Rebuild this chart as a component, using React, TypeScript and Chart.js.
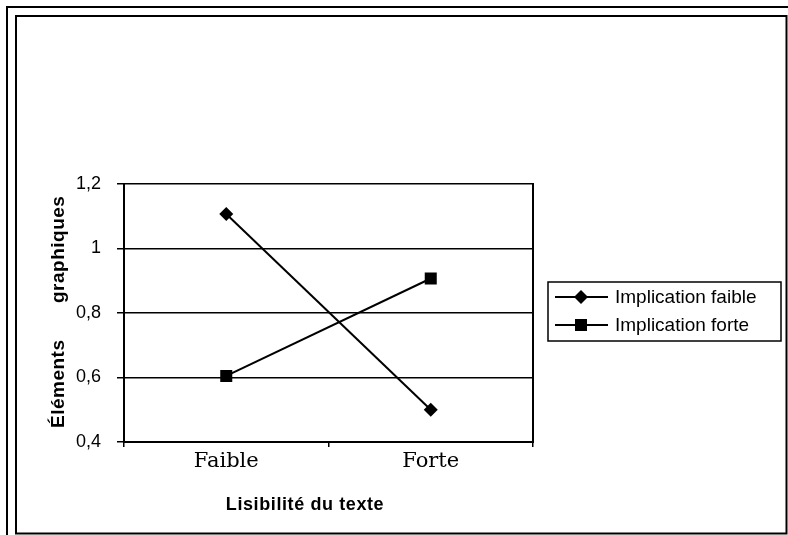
import React, { useEffect, useRef } from 'react';
import { Chart, registerables } from 'chart.js';

Chart.register(...registerables);

const categories = ['Faible', 'Forte'];
const seriesNames = ['Implication faible', 'Implication forte'];
const implicationFaible = [1.107, 0.5];
const implicationForte = [0.605, 0.907];
const yMin = 0.4;
const yMax = 1.2;
const yStep = 0.2;
const xTitle = 'Lisibilité du texte';
const yTitleWords = ['Éléments', 'graphiques'];

const W = 788;
const H = 535;

const framePlugin = {
  id: 'framePlugin',
  beforeDraw(chart: any) {
    const ctx = chart.ctx;
    ctx.save();
    ctx.fillStyle = '#fff';
    ctx.fillRect(0, 0, chart.width, chart.height);
    ctx.strokeStyle = '#000';
    ctx.lineWidth = 2;
    ctx.beginPath();
    ctx.moveTo(7, H);
    ctx.lineTo(7, 7);
    ctx.lineTo(W, 7);
    ctx.stroke();
    ctx.strokeRect(16, 16, 770.5, 517.5);
    ctx.restore();
  },
  afterDraw(chart: any) {
    const ctx = chart.ctx;
    ctx.save();
    ctx.fillStyle = '#000';
    ctx.strokeStyle = '#000';
    // x title
    ctx.font = 'bold 18px "Liberation Sans", Arial, sans-serif';
    (ctx as any).letterSpacing = '0.6px';
    ctx.textAlign = 'center';
    ctx.textBaseline = 'middle';
    ctx.fillText(xTitle, 305, 505);
    // y title (two words, wide gap)
    ctx.font = 'bold 19px "Liberation Sans", Arial, sans-serif';
    (ctx as any).letterSpacing = '0.5px';
    ctx.save();
    ctx.translate(64, 428);
    ctx.rotate(-Math.PI / 2);
    ctx.textAlign = 'left';
    ctx.textBaseline = 'alphabetic';
    ctx.fillText(yTitleWords[0], 0, 0);
    ctx.restore();
    ctx.save();
    ctx.translate(64, 303);
    ctx.rotate(-Math.PI / 2);
    ctx.textAlign = 'left';
    ctx.textBaseline = 'alphabetic';
    ctx.fillText(yTitleWords[1], 0, 0);
    ctx.restore();
    (ctx as any).letterSpacing = '0px';

    // legend
    ctx.lineWidth = 1.5;
    ctx.strokeRect(548, 282, 233, 59);
    const rows = [297, 325];
    chart.data.datasets.forEach((ds: any, i: number) => {
      const y = rows[i];
      ctx.lineWidth = 2;
      ctx.beginPath();
      ctx.moveTo(555, y);
      ctx.lineTo(608, y);
      ctx.stroke();
      const cx = 581;
      ctx.beginPath();
      if (ds.pointStyle === 'rectRot') {
        const r = 7;
        ctx.moveTo(cx - r, y);
        ctx.lineTo(cx, y - r);
        ctx.lineTo(cx + r, y);
        ctx.lineTo(cx, y + r);
        ctx.closePath();
      } else {
        ctx.rect(cx - 6, y - 6, 12, 12);
      }
      ctx.fill();
      ctx.font = '19px "Liberation Sans", Arial, sans-serif';
      ctx.textAlign = 'left';
      ctx.textBaseline = 'middle';
      ctx.fillText(ds.label, 615, y + 1);
    });
    ctx.restore();
  },
};

export default function App() {
  const ref = useRef<HTMLCanvasElement>(null);
  useEffect(() => {
    if (!ref.current) return;
    const chart = new Chart(ref.current, {
      type: 'line',
      data: {
        labels: categories,
        datasets: [
          {
            label: seriesNames[0],
            data: implicationFaible,
            borderColor: '#000',
            backgroundColor: '#000',
            borderWidth: 2,
            pointStyle: 'rectRot',
            pointRadius: 7,
            pointBackgroundColor: '#000',
            pointBorderColor: '#000',
            pointBorderWidth: 0,
            tension: 0,
          },
          {
            label: seriesNames[1],
            data: implicationForte,
            borderColor: '#000',
            backgroundColor: '#000',
            borderWidth: 2,
            pointStyle: 'rect',
            pointRadius: 8.5,
            pointBackgroundColor: '#000',
            pointBorderColor: '#000',
            pointBorderWidth: 0,
            tension: 0,
          },
        ],
      },
      options: {
        animation: false,
        responsive: false,
        devicePixelRatio: 1,
        layout: { padding: { left: 16, top: 184, right: 255, bottom: 0 } },
        plugins: {
          legend: { display: false },
          tooltip: { enabled: false },
          title: { display: false },
        },
        scales: {
          x: {
            type: 'category',
            offset: true,
            grid: {
              offset: true,
              drawOnChartArea: false,
              drawTicks: true,
              tickLength: 5,
              color: '#000',
              lineWidth: 1.5,
            },
            border: { display: true, color: '#000', width: 2 },
            ticks: {
              color: '#000',
              padding: 2,
              font: { family: '"DejaVu Serif", serif', size: 21 },
            },
            afterFit: (s: any) => {
              s.height = 93;
            },
          },
          y: {
            type: 'linear',
            min: yMin,
            max: yMax,
            grid: { color: '#000', lineWidth: 1.5, tickLength: 7, drawTicks: true },
            border: { display: true, color: '#000', width: 2 },
            ticks: {
              stepSize: yStep,
              color: '#000',
              padding: 16,
              font: { family: '"Liberation Sans", Arial, sans-serif', size: 18 },
              callback: (v: any) => String(Math.round(Number(v) * 10) / 10).replace('.', ','),
            },
            afterFit: (s: any) => {
              s.width = 108;
            },
          },
          y2: {
            type: 'linear',
            position: 'right',
            min: yMin,
            max: yMax,
            grid: { drawOnChartArea: false, drawTicks: false },
            border: { display: true, color: '#000', width: 2 },
            ticks: { display: false },
            afterFit: (s: any) => {
              s.width = 0;
            },
          },
        },
      },
      plugins: [framePlugin],
    });
    return () => chart.destroy();
  }, []);
  return (
    <div style={{ position: 'absolute', left: 0, top: 0, width: W, height: H }}>
      <canvas ref={ref} width={W} height={H} style={{ width: W, height: H, display: 'block' }} />
    </div>
  );
}
